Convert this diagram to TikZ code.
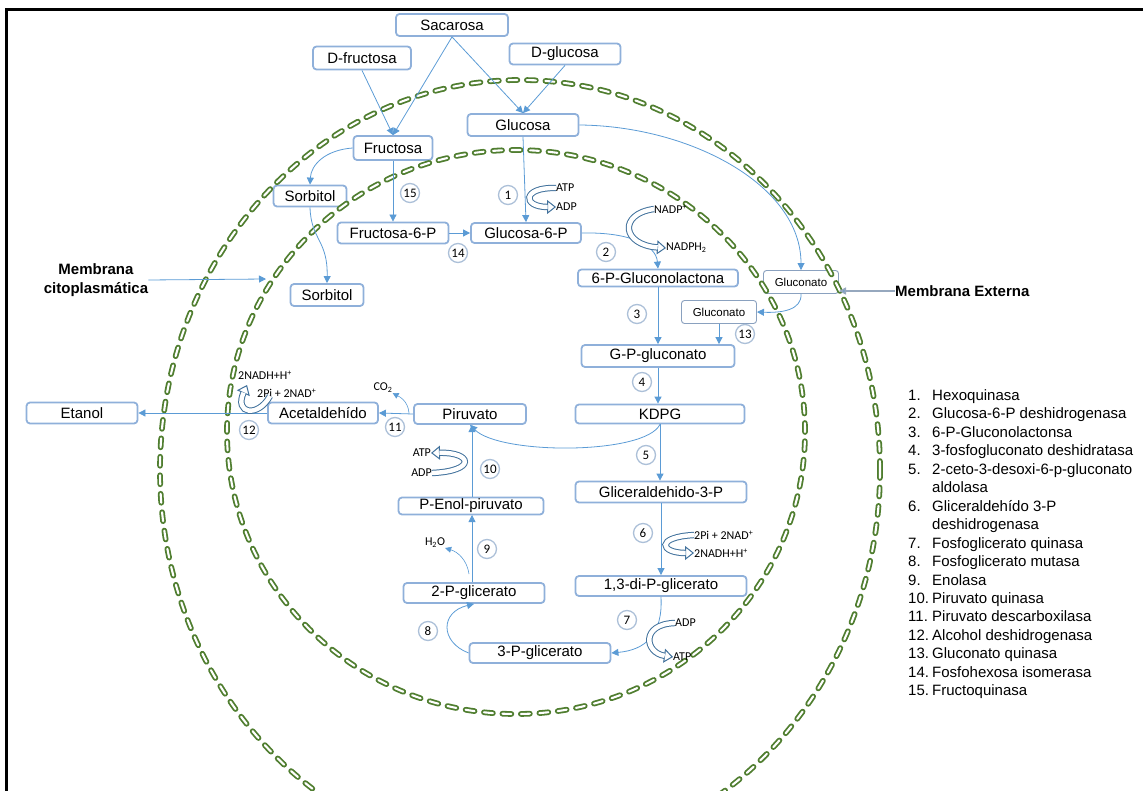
\documentclass[tikz,border=0pt]{standalone}
\usepackage{fontspec}
\setmainfont{Liberation Sans}
\newfontfamily\calib{Carlito}
\usetikzlibrary{arrows.meta,calc}

\definecolor{boxline}{RGB}{143,176,218}
\definecolor{flow}{RGB}{91,155,213}
\definecolor{block}{RGB}{65,113,156}
\definecolor{ring}{RGB}{80,126,48}
\definecolor{numline}{RGB}{172,192,216}
\definecolor{pointer}{RGB}{150,168,190}

\tikzset{
  box/.style={draw=boxline, line width=1.8pt, rounded corners=3.5pt, fill=white,
    inner sep=0pt, font=\fontsize{15}{18}\selectfont},
  smallbox/.style={draw=boxline!70!gray, line width=0.9pt, rounded corners=3pt, fill=white,
    inner sep=0pt, font=\fontsize{11.5}{14}\selectfont, minimum width=75pt, minimum height=23pt},
  flowline/.style={draw=flow, line width=0.8pt, -{Triangle[length=7pt,width=7pt]}},
  enzyme/.style={circle, draw=numline, line width=1.3pt, fill=white, minimum size=19pt,
    inner sep=0pt, font=\calib\fontsize{13}{14}\selectfont},
  cofactor/.style={font=\calib\fontsize{12}{14}\selectfont, inner sep=0pt},
  turnhead/.style={draw=block, line width=1pt,
    -{Triangle[open,length=9pt,width=14pt,fill=white]}},
  turnbody/.style={draw=block, line width=1pt, double=white, double distance=4.4pt,
    shorten >=8.4pt},
  membrane/.style={draw=ring, line width=1.8pt, double=white, double distance=2.1pt,
    dash pattern=on 9pt off 9.5pt, line cap=round},
  legend/.style={font=\fontsize{15}{18}\selectfont, inner sep=0pt, anchor=base west},
  title/.style={font=\bfseries\fontsize{15}{19}\selectfont, inner sep=0pt, align=center},
}
% hollow block arrow: outlined head first, then the double-lined shaft over it
\newcommand\cofturn[1]{\draw[turnhead] #1; \draw[turnbody] #1;}

\begin{document}
\begin{tikzpicture}[x=1pt,y=-1pt]
\useasboundingbox (0,0) rectangle (1143,791);

% frame
\draw[line width=2.2pt] (6.5,791) -- (6.5,9.5) -- (1143,9.5);

% substrates and intermediates
\node[box, minimum width=112pt, minimum height=22pt] (sac)  at (452,25)  {Sacarosa};
\node[box, minimum width=98pt,  minimum height=23pt] (dfru) at (362,58)  {D-fructosa};
\node[box, minimum width=111pt, minimum height=21pt] (dglu) at (565,54)  {D-glucosa};
\node[box, minimum width=111pt, minimum height=22pt] (glu)  at (523,125) {Glucosa};
\node[box, minimum width=79pt,  minimum height=24pt] (fru)  at (393,148) {Fructosa};
\node[box, minimum width=73pt,  minimum height=21pt] (sor1) at (310,196) {Sorbitol};
\node[box, minimum width=73pt,  minimum height=22pt] (sor2) at (327,295) {Sorbitol};
\node[box, minimum width=111pt, minimum height=21pt] (f6p)  at (393,233) {Fructosa-6-P};
\node[box, minimum width=110pt, minimum height=20pt] (g6p)  at (526,233) {Glucosa-6-P};
\node[box, minimum width=160pt, minimum height=17pt] (gl6)  at (658,278) {6-P-Gluconolactona};
\node[smallbox] (gluo) at (801,282) {Gluconato};
\node[smallbox] (glin) at (719,312) {Gluconato};
\node[box, minimum width=153pt, minimum height=22pt] (gpg)  at (658,356) {G-P-gluconato};
\node[box, minimum width=169pt, minimum height=19pt] (kdpg) at (660,414) {KDPG};
\node[box, minimum width=112pt, minimum height=20pt] (pir)  at (470,414) {Piruvato};
\node[box, minimum width=110pt, minimum height=21pt] (acet) at (323,413) {Acetaldehído};
\node[box, minimum width=111pt, minimum height=21pt] (eta)  at (82,413)  {Etanol};
\node[box, minimum width=171pt, minimum height=21pt] (gap)  at (661,492) {Gliceraldehido-3-P};
\node[box, minimum width=171pt, minimum height=20pt] (dpg)  at (661,586) {1,3-di-P-glicerato};
\node[box, minimum width=145pt, minimum height=17pt] (pep)  at (471,506) {P-Enol-piruvato};
\node[box, minimum width=141pt, minimum height=20pt] (pg2)  at (474,593) {2-P-glicerato};
\node[box, minimum width=141pt, minimum height=20pt] (pg3)  at (540,653) {3-P-glicerato};

% membranes
\draw[membrane] (520,470) ellipse [x radius=360pt, y radius=390pt];
\draw[membrane] (516,432) ellipse [x radius=289pt, y radius=282pt];

% uptake
\draw[flowline] (sac.south) -- (fru.north);
\draw[flowline] (sac.south) -- (glu.north);
\draw[flowline] (dfru.south) -- (fru.north);
\draw[flowline] (dglu.south) -- (glu.north);

% hexose branch
\draw[flowline] (glu.south) -- (g6p.north);
\draw[flowline] (fru.west) .. controls (325,150) and (311,165) .. (sor1.north);
\draw[flowline] (sor1.south) .. controls (311,240) and (328,240) .. (sor2.north);
\draw[flowline] (fru.south) -- (f6p.north);
\draw[flowline] (f6p.east) -- (g6p.west);

% Entner-Doudoroff branch
\draw[flowline] (glu.east) .. controls (690,126) and (801,185) .. (gluo.north);
\draw[flowline] (gluo.south) .. controls (802,310) and (782,313) .. (glin.east);
\draw[flowline] (g6p.east) .. controls (630,232) and (656,245) .. (gl6.north);
\draw[flowline] (gl6.south) -- (gpg.north);
\draw[flowline] (glin.south) -- (glin.south |- gpg.north);
\draw[flowline] (gpg.south) -- (gpg.south |- kdpg.north);
\draw[flowline] (kdpg.south) -- (kdpg.south |- gap.north);
\draw[flowline] (kdpg.south) .. controls (645,455) and (500,455) .. (pir.south);

% lower glycolysis
\draw[flowline] (gap.south) -- (dpg.north);
\draw[flowline] (dpg.south) .. controls (663,635) and (645,650) .. (pg3.east);
\draw[flowline] (pg3.west) .. controls (440,642) and (440,612) .. (pg2.south);
\draw[flowline] (pg2.north -| 472,0) -- (472,515);
\draw[flowline] (pep.north -| 472,0) -- (472,425);

% fermentation
\draw[flowline] (pir.west) -- (acet.east);
\draw[flowline] (acet.west) -- (eta.east);

% side products
\node[cofactor] (co2) at (383,388) {CO\textsubscript{2}};
\draw[flowline, line width=0.6pt, -{Triangle[length=6pt,width=6pt]}]
  (409,413) .. controls (408,400) and (398,396) .. (co2.south east);
\node[cofactor] (h2o) at (435,543) {H\textsubscript{2}O};
\draw[flowline, line width=0.6pt, -{Triangle[length=6pt,width=6pt]}]
  (469,574) .. controls (467,560) and (458,552) .. (h2o.south east);

% cofactor exchanges
\node[cofactor, anchor=west] (atp1) at (556,188) {ATP};
\node[cofactor, anchor=west] (adp1) at (556,207) {ADP};
\cofturn{(atp1.west) .. controls (522,187) and (522,207) .. (adp1.west)}

\node[cofactor, anchor=west] (nadp) at (654,209) {NADP\textsuperscript{+}};
\node[cofactor, anchor=west] (nadph) at (666,248) {NADPH\textsubscript{2}};
\cofturn{(nadp.west) .. controls (618,214) and (622,245) .. (nadph.west)}

\node[cofactor, anchor=west] (nad6) at (694,535) {2Pi + 2NAD\textsuperscript{+}};
\node[cofactor, anchor=west] (nadh6) at (694,553) {2NADH+H\textsuperscript{+}};
\cofturn{(nad6.west) .. controls (655,537) and (660,553) .. (nadh6.west)}

\node[cofactor, anchor=west] (adp7) at (675,623) {ADP};
\node[cofactor, anchor=west] (atp7) at (673,657) {ATP};
\cofturn{(adp7.west) .. controls (640,624) and (645,653) .. (atp7.west)}

\node[cofactor, anchor=east] (atp10) at (431,453) {ATP};
\node[cofactor, anchor=east] (adp10) at (432,473) {ADP};
\cofturn{(adp10.east) .. controls (477,471) and (472,452) .. (atp10.east)}

\node[cofactor, anchor=west] (nadh12) at (238,375) {2NADH+H\textsuperscript{+}};
\node[cofactor, anchor=west] (nad12) at (257,393) {2Pi + 2NAD\textsuperscript{+}};
\coordinate (t12) at (270,396);
\coordinate (h12) at (247,385);
\cofturn{(t12) .. controls (258,418) and (234,414) .. (h12)}

% enzyme numbers
\foreach \k/\p in {1/{(508,195)}, 2/{(606,252)}, 3/{(637,314)}, 4/{(642,382)},
    5/{(646,455)}, 6/{(643,533)}, 7/{(627,620)}, 8/{(428,631)}, 9/{(487,549)},
    10/{(490,469)}, 11/{(395,427)}, 12/{(249,430)}, 13/{(745,334)},
    14/{(458,253)}, 15/{(410,193)}}
  \node[enzyme] (e\k) at \p {\k};

% membrane labels
\node[title] (mcit) at (96,280) {Membrana\\citoplasmática};
\coordinate (cyto) at (266,279);
\draw[flowline] (mcit.east) -- (cyto);
\node[title, anchor=west] (mext) at (895,291) {Membrana Externa};
\coordinate (outer) at (839,291);
\draw[draw=pointer, line width=1.6pt, -{Triangle[length=7pt,width=7pt,fill=flow]}] (mext.west) -- (outer);

% enzyme key
\foreach \n/\t [count=\i from 0] in {1./Hexoquinasa, 2./Glucosa-6-P deshidrogenasa,
    3./6-P-Gluconolactonsa, 4./3-fosfogluconato deshidratasa,
    5./2-ceto-3-desoxi-6-p-gluconato, /aldolasa, 6./Gliceraldehído 3-P,
    /deshidrogenasa, 7./Fosfoglicerato quinasa, 8./Fosfoglicerato mutasa,
    9./Enolasa, 10./Piruvato quinasa, 11./Piruvato descarboxilasa,
    12./Alcohol deshidrogenasa, 13./Gluconato quinasa,
    14./Fosfohexosa isomerasa, 15./Fructoquinasa}
{
  \node[legend] (kn\i) at (908,400.5+18.45*\i) {\n};
  \node[legend] (kt\i) at (932,400.5+18.45*\i) {\t};
}
\end{tikzpicture}
\end{document}
